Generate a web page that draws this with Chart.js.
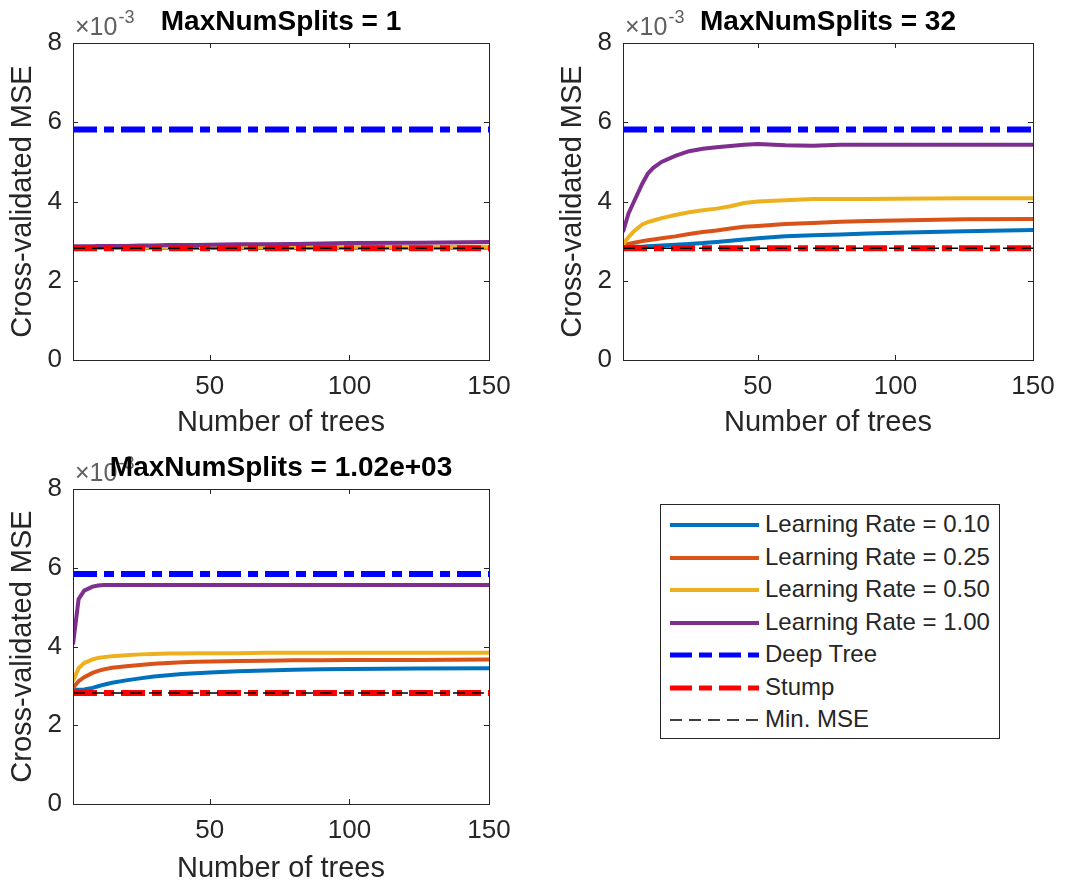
<!DOCTYPE html>
<html>
<head>
<meta charset="utf-8">
<script src="https://cdn.jsdelivr.net/npm/chart.js@4/dist/chart.umd.min.js"></script>
<style>
  body { margin: 0; background: #fff; width: 1067px; height: 886px; position: relative; overflow: hidden;
         font-family: "Liberation Sans", Arial, sans-serif; }
  .pane { position: absolute; }
  #legend { position: absolute; left: 660px; top: 504px; width: 340px; height: 235px;
            border: 1px solid #262626; box-sizing: border-box; background: #fff; }
  .row { position: absolute; left: 0; height: 32px; width: 100%; }
  .row svg { position: absolute; left: 8px; top: 6px; }
  .row span { position: absolute; left: 104px; top: 1px; font-size: 24px; color: #262626; white-space: nowrap; }
</style>
</head>
<body>
<div class="pane" style="left:0;top:0"><canvas id="c1" width="533" height="443"></canvas></div>
<div class="pane" style="left:533px;top:0"><canvas id="c2" width="534" height="443"></canvas></div>
<div class="pane" style="left:0;top:443px"><canvas id="c3" width="533" height="443"></canvas></div>
<div id="legend"></div>

<script>
// number of trees at which the curves were read
const treeCounts = [1, 3, 5, 8, 10, 12, 15, 20, 25, 30, 35, 40, 45, 50, 60, 70, 80, 90, 100, 125, 150];

// cross-validated MSE, in units of 1e-3
// MaxNumSplits = 1
const mse1_lr010 = [2.83, 2.83, 2.83, 2.83, 2.83, 2.83, 2.83, 2.83, 2.83, 2.83, 2.83, 2.83, 2.83, 2.83, 2.83, 2.83, 2.83, 2.84, 2.84, 2.84, 2.84];
const mse1_lr025 = [2.84, 2.83, 2.83, 2.83, 2.83, 2.83, 2.83, 2.83, 2.83, 2.83, 2.83, 2.83, 2.83, 2.83, 2.83, 2.84, 2.84, 2.84, 2.84, 2.84, 2.84];
const mse1_lr050 = [2.85, 2.84, 2.84, 2.84, 2.84, 2.84, 2.84, 2.84, 2.84, 2.84, 2.84, 2.84, 2.85, 2.85, 2.85, 2.85, 2.85, 2.85, 2.86, 2.86, 2.86];
const mse1_lr100 = [2.87, 2.87, 2.87, 2.87, 2.88, 2.88, 2.88, 2.88, 2.89, 2.89, 2.90, 2.90, 2.90, 2.91, 2.92, 2.92, 2.93, 2.94, 2.95, 2.96, 2.98];
// MaxNumSplits = 32
const mse32_lr010 = [2.85, 2.85, 2.86, 2.86, 2.87, 2.88, 2.89, 2.91, 2.93, 2.95, 2.98, 3.01, 3.04, 3.07, 3.12, 3.15, 3.17, 3.19, 3.21, 3.25, 3.28];
const mse32_lr025 = [2.90, 2.93, 2.96, 3.00, 3.02, 3.04, 3.07, 3.12, 3.18, 3.23, 3.27, 3.32, 3.36, 3.38, 3.43, 3.46, 3.49, 3.51, 3.52, 3.55, 3.56];
const mse32_lr050 = [2.92, 3.10, 3.25, 3.42, 3.48, 3.52, 3.58, 3.66, 3.73, 3.78, 3.82, 3.88, 3.96, 4.00, 4.03, 4.06, 4.06, 4.06, 4.07, 4.08, 4.08];
const mse32_lr100 = [3.23, 3.70, 4.00, 4.45, 4.70, 4.85, 5.00, 5.15, 5.27, 5.33, 5.37, 5.40, 5.43, 5.45, 5.42, 5.41, 5.43, 5.43, 5.43, 5.43, 5.43];
// MaxNumSplits = 1.02e+03
const mse1024_lr010 = [2.90, 2.90, 2.91, 2.95, 2.99, 3.03, 3.08, 3.14, 3.19, 3.24, 3.27, 3.30, 3.32, 3.34, 3.37, 3.39, 3.41, 3.42, 3.43, 3.44, 3.45];
const mse1024_lr025 = [2.95, 3.12, 3.22, 3.33, 3.38, 3.42, 3.46, 3.50, 3.53, 3.56, 3.58, 3.60, 3.61, 3.62, 3.63, 3.64, 3.65, 3.65, 3.66, 3.66, 3.67];
const mse1024_lr050 = [3.12, 3.45, 3.58, 3.67, 3.71, 3.73, 3.75, 3.78, 3.80, 3.81, 3.82, 3.82, 3.83, 3.83, 3.83, 3.84, 3.84, 3.84, 3.84, 3.84, 3.84];
const mse1024_lr100 = [4.05, 5.20, 5.42, 5.52, 5.55, 5.56, 5.56, 5.56, 5.56, 5.56, 5.56, 5.56, 5.56, 5.56, 5.56, 5.56, 5.56, 5.56, 5.56, 5.56, 5.56];

// reference levels per panel
const deepTreeMSE = [5.82, 5.82, 5.84];
const stumpMSE = [2.82, 2.82, 2.82];
const minMSE = [2.82, 2.82, 2.82];

const panelTitles = ['MaxNumSplits = 1', 'MaxNumSplits = 32', 'MaxNumSplits = 1.02e+03'];
const lrLabels = ['Learning Rate = 0.10', 'Learning Rate = 0.25', 'Learning Rate = 0.50', 'Learning Rate = 1.00'];
const xTicks = [50, 100, 150];
const yTicks = [0, 2, 4, 6, 8];

const lrColors = ['#0072BD', '#D95319', '#EDB120', '#7E2F8E'];
const dashDot = [24, 7, 10, 7];
const ink = '#262626';
const family = '"Liberation Sans", Arial, sans-serif';

function pts(arr) { return arr.map((v, i) => ({ x: treeCounts[i], y: v })); }
function flat(v) { return [{ x: 1, y: v }, { x: 150, y: v }]; }

// box, inward tick marks, panel title and the x10^-3 multiplier
const matlabAxes = {
  id: 'matlabAxes',
  afterDatasetsDraw(chart) {
    const { ctx, chartArea: a, scales } = chart;
    ctx.save();
    ctx.strokeStyle = ink;
    ctx.lineWidth = 1;
    ctx.strokeRect(Math.round(a.left) + 0.5, Math.round(a.top) + 0.5, Math.round(a.right - a.left), Math.round(a.bottom - a.top));
    ctx.beginPath();
    xTicks.forEach(v => {
      const x = Math.round(scales.x.getPixelForValue(v)) + 0.5;
      ctx.moveTo(x, a.bottom); ctx.lineTo(x, a.bottom - 5);
      ctx.moveTo(x, a.top); ctx.lineTo(x, a.top + 5);
    });
    yTicks.forEach(v => {
      const y = Math.round(scales.y.getPixelForValue(v)) + 0.5;
      ctx.moveTo(a.left, y); ctx.lineTo(a.left + 5, y);
      ctx.moveTo(a.right, y); ctx.lineTo(a.right - 5, y);
    });
    ctx.stroke();
    ctx.restore();
  },
  afterDraw(chart, args, opts) {
    const { ctx, chartArea: a } = chart;
    ctx.save();
    ctx.fillStyle = '#606060';
    ctx.textBaseline = 'alphabetic';
    ctx.textAlign = 'left';
    ctx.font = '25px ' + family;
    ctx.fillText('\u00d710', a.left + 2, a.top - 8);
    const w = ctx.measureText('\u00d710').width;
    ctx.font = '18px ' + family;
    ctx.fillText('-3', a.left + 3 + w, a.top - 20);
    ctx.fillStyle = '#000';
    ctx.textAlign = 'center';
    ctx.textBaseline = 'middle';
    ctx.font = 'bold 28px ' + family;
    ctx.fillText(opts.title, (a.left + a.right) / 2, a.top - 21);
    ctx.restore();
  }
};

function makePanel(id, k, lrSeries, area, yTitlePad, xTitlePad) {
  const canvas = document.getElementById(id);
  const datasets = [
    { label: 'Min. MSE', data: flat(minMSE[k]), borderColor: '#000', borderWidth: 1.5, borderDash: [12, 7], order: 0 },
    { label: 'Stump', data: flat(stumpMSE[k]), borderColor: '#FF0000', borderWidth: 6, borderDash: dashDot, order: 1 },
    { label: 'Deep Tree', data: flat(deepTreeMSE[k]), borderColor: '#0000FF', borderWidth: 6, borderDash: dashDot, order: 2 }
  ];
  for (let i = 3; i >= 0; i--) {
    datasets.push({ label: lrLabels[i], data: pts(lrSeries[i]), borderColor: lrColors[i], borderWidth: 4, order: 6 - i });
  }
  datasets.forEach(d => { d.pointRadius = 0; d.fill = false; d.tension = 0; });

  return new Chart(canvas, {
    type: 'line',
    data: { datasets: datasets },
    plugins: [matlabAxes],
    options: {
      responsive: false,
      animation: false,
      layout: { padding: { left: 0, top: area.t, right: canvas.width - area.r, bottom: 0 } },
      plugins: {
        legend: { display: false },
        tooltip: { enabled: false },
        matlabAxes: { title: panelTitles[k] }
      },
      scales: {
        x: {
          type: 'linear', min: 1, max: 150,
          grid: { display: false, drawTicks: false },
          border: { display: false },
          afterBuildTicks: s => { s.ticks = xTicks.map(v => ({ value: v })); },
          afterFit: s => { s.height = canvas.height - area.b; },
          ticks: { color: ink, font: { size: 26, family: family }, padding: 11, maxRotation: 0, autoSkip: false },
          title: { display: true, text: 'Number of trees', color: ink,
                   font: { size: 29, family: family }, padding: { top: 0, bottom: xTitlePad } }
        },
        y: {
          type: 'linear', min: 0, max: 8,
          grid: { display: false, drawTicks: false },
          border: { display: false },
          afterBuildTicks: s => { s.ticks = yTicks.map(v => ({ value: v })); },
          afterFit: s => { s.width = area.l; },
          ticks: { color: ink, font: { size: 26, family: family }, padding: 11 },
          title: { display: true, text: 'Cross-validated MSE', color: ink,
                   font: { size: 29, family: family }, padding: { top: yTitlePad, bottom: 0 } }
        }
      }
    }
  });
}

makePanel('c1', 0, [mse1_lr010, mse1_lr025, mse1_lr050, mse1_lr100], { l: 73, t: 43, r: 489, b: 360 }, 6, 3);
makePanel('c2', 1, [mse32_lr010, mse32_lr025, mse32_lr050, mse32_lr100], { l: 90, t: 43, r: 500, b: 360 }, 23, 3);
makePanel('c3', 2, [mse1024_lr010, mse1024_lr025, mse1024_lr050, mse1024_lr100], { l: 73, t: 46, r: 489, b: 361 }, 6, 0);

// legend
const legendItems = [
  { text: lrLabels[0], color: lrColors[0], width: 4, dash: '' },
  { text: lrLabels[1], color: lrColors[1], width: 4, dash: '' },
  { text: lrLabels[2], color: lrColors[2], width: 4, dash: '' },
  { text: lrLabels[3], color: lrColors[3], width: 4, dash: '' },
  { text: 'Deep Tree', color: '#0000FF', width: 5, dash: '22 7 13 7' },
  { text: 'Stump', color: '#FF0000', width: 5, dash: '22 7 13 7' },
  { text: 'Min. MSE', color: '#000', width: 1.5, dash: '12 7' }
];
const legend = document.getElementById('legend');
legendItems.forEach((it, i) => {
  const row = document.createElement('div');
  row.className = 'row';
  row.style.top = (4 + i * 32.5) + 'px';
  row.innerHTML = '<svg width="92" height="20"><line x1="1" y1="10" x2="90" y2="10" stroke="' + it.color +
    '" stroke-width="' + it.width + '" stroke-dasharray="' + it.dash + '"/></svg><span>' + it.text + '</span>';
  legend.appendChild(row);
});
</script>
</body>
</html>
